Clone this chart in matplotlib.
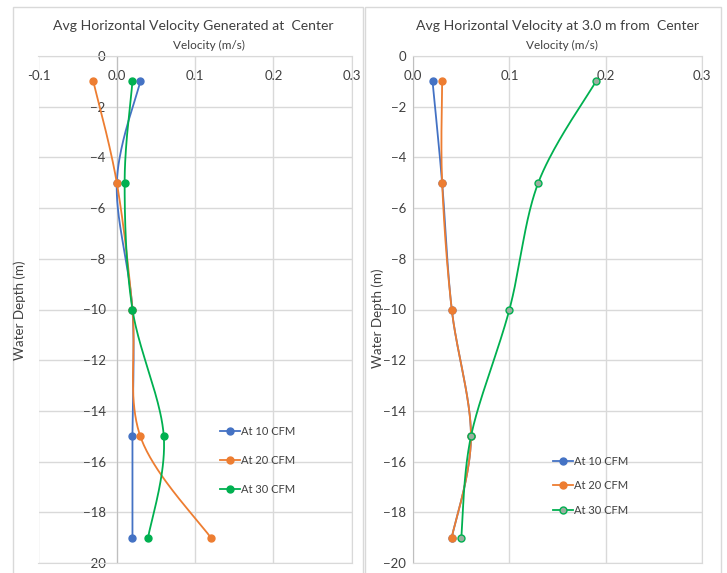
import numpy as np
import matplotlib
matplotlib.use('Agg')
import matplotlib.pyplot as plt
from matplotlib.lines import Line2D
from matplotlib.patches import Rectangle

plt.rcParams['font.family'] = ['Lato', 'DejaVu Sans']

# depth of each sampling point (m)
depth = [-1, -5, -10, -15, -19]

# average horizontal velocity (m/s), aerator at the centre
center_10 = [0.03, 0.00, 0.02, 0.02, 0.02]
center_20 = [-0.03, 0.00, 0.02, 0.03, 0.12]
center_30 = [0.02, 0.01, 0.02, 0.06, 0.04]

# average horizontal velocity (m/s), 3.0 m away from the centre
far_10 = [0.02, 0.03, 0.04, 0.06, 0.04]
far_20 = [0.03, 0.03, 0.04, 0.06, 0.04]
far_30 = [0.19, 0.13, 0.10, 0.06, 0.05]

labels = ['At 10 CFM', 'At 20 CFM', 'At 30 CFM']
y_ticks = list(range(-20, 1, 2))

BLUE, ORANGE, GREEN = '#4472C4', '#ED7D31', '#00B050'
GRID = '#d9d9d9'
TXT = '#404040'

W, H = 727, 573


def fx(x):
    return x / W


def fy(y):
    return 1 - y / H


def smooth(ax, xs, ys, n=40):
    # Excel style smoothed line: cubic Bezier through the points, built in pixel space
    pts = ax.transData.transform(np.column_stack([xs, ys]))
    P = np.vstack([pts[0], pts, pts[-1]])
    t = np.linspace(0, 1, n)[:, None]
    segs = []
    for i in range(1, len(P) - 2):
        p0, p1, p2, p3 = P[i - 1], P[i], P[i + 1], P[i + 2]
        c1 = p1 + (p2 - p0) / 6
        c2 = p2 - (p3 - p1) / 6
        segs.append((1 - t) ** 3 * p1 + 3 * (1 - t) ** 2 * t * c1
                    + 3 * (1 - t) * t ** 2 * c2 + t ** 3 * p2)
    c = ax.transData.inverted().transform(np.vstack(segs))
    return c[:, 0], c[:, 1]


def setup(ax, xticks, ypad):
    ax.set_xlim(xticks[0], xticks[-1])
    ax.set_ylim(-20, 0)
    ax.set_xticks(xticks)
    ax.set_xticklabels(['%.1f' % v for v in xticks])
    ax.set_yticks(y_ticks)
    ax.xaxis.tick_top()
    ax.tick_params(axis='x', length=0, pad=-19, labelsize=9.5, labelcolor=TXT)
    ax.tick_params(axis='y', length=0, pad=ypad, labelsize=9.5, labelcolor=TXT)
    ax.grid(True, color=GRID, lw=1)
    ax.set_axisbelow(True)
    for s in ax.spines.values():
        s.set_color(GRID)
    ax.spines['left'].set_color('#bfbfbf')


def draw(ax, series, colors, faces):
    for vals, col, face in zip(series, colors, faces):
        cx, cy = smooth(ax, vals, depth)
        ax.plot(cx, cy, color=col, lw=1.3, zorder=3)
        ax.plot(vals, depth, 'o', ms=5, color=col, mfc=face, mec=col, zorder=3)


fig = plt.figure(figsize=(W / 100, H / 100), dpi=100)

# panel frames
fig.add_artist(Rectangle((fx(12.7), fy(600)), fx(363) - fx(12.7), fy(7) - fy(600),
                         transform=fig.transFigure, fill=False, ec=GRID, lw=1))
fig.add_artist(Rectangle((fx(365), fy(600)), fx(721) - fx(365), fy(7) - fy(600),
                         transform=fig.transFigure, fill=False, ec=GRID, lw=1))

ax1 = fig.add_axes([fx(38.5), fy(563), fx(351.7) - fx(38.5), fy(56) - fy(563)])
setup(ax1, [-0.1, 0.0, 0.1, 0.2, 0.3], 8)
ax1.spines['left'].set_position(('data', 0))
draw(ax1, [center_10, center_20, center_30], [BLUE, ORANGE, GREEN], [BLUE, ORANGE, GREEN])

ax2 = fig.add_axes([fx(413.3), fy(563), fx(701.7) - fx(413.3), fy(56) - fy(563)])
setup(ax2, [0.0, 0.1, 0.2, 0.3], 5)
draw(ax2, [far_10, far_20, far_30], [BLUE, ORANGE, GREEN], [BLUE, ORANGE, '#9aae9f'])

fig.text(fx(193), fy(26), 'Avg Horizontal Velocity Generated at  Center',
         ha='center', va='center', fontsize=10.1, color=TXT)
fig.text(fx(558), fy(26), 'Avg Horizontal Velocity at 3.0 m from  Center',
         ha='center', va='center', fontsize=10.1, color=TXT)
fig.text(fx(209), fy(45), 'Velocity (m/s)', ha='center', va='center', fontsize=8.5, color=TXT)
fig.text(fx(562), fy(45), 'Velocity (m/s)', ha='center', va='center', fontsize=8.5, color=TXT)
fig.text(fx(20), fy(310), 'Water Depth (m)', ha='center', va='center', rotation=90,
         fontsize=9.6, color=TXT)
fig.text(fx(378), fy(318), 'Water Depth (m)', ha='center', va='center', rotation=90,
         fontsize=9.6, color=TXT)

h1 = [Line2D([], [], color=c, lw=1.3, marker='o', ms=5, mfc=f, mec=c)
      for c, f in zip([BLUE, ORANGE, GREEN], [BLUE, ORANGE, GREEN])]
h2 = [Line2D([], [], color=c, lw=1.3, marker='o', ms=5, mfc=f, mec=c)
      for c, f in zip([BLUE, ORANGE, GREEN], [BLUE, ORANGE, '#9aae9f'])]
ax1.legend(handles=h1, labels=labels, loc='upper left', frameon=False,
           bbox_to_anchor=(fx(220), fy(426)), bbox_transform=fig.transFigure,
           borderpad=0, borderaxespad=0, handlelength=1.8, handletextpad=0.1,
           labelspacing=1.6, fontsize=8, labelcolor=TXT)
ax2.legend(handles=h2, labels=labels, loc='upper left', frameon=False,
           bbox_to_anchor=(fx(553), fy(456)), bbox_transform=fig.transFigure,
           borderpad=0, borderaxespad=0, handlelength=1.8, handletextpad=0.1,
           labelspacing=1.2, fontsize=8, labelcolor=TXT)

fig.savefig('out.png', dpi=100)
